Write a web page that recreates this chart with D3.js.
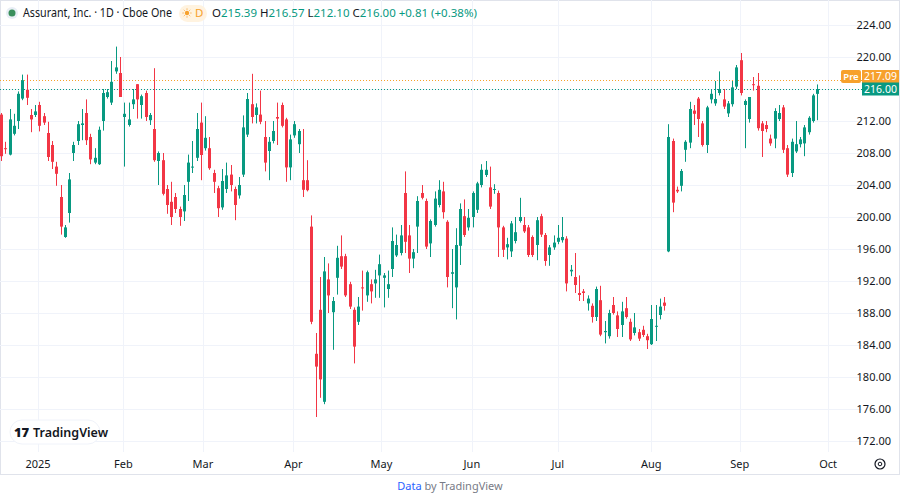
<!DOCTYPE html>
<html><head><meta charset="utf-8">
<script src="https://cdn.jsdelivr.net/npm/d3@7/dist/d3.min.js"></script>
<style>body{margin:0;background:#fff;font-family:"Noto Sans",Roboto,sans-serif}</style>
</head><body><svg id="c" width="900" height="498"></svg>
<script>
// OHLC per trading day: [open, high, low, close]
const candles = [
[212.8,213,207,207.6],[208.6,209.4,207.9,208.5],[207.8,213.5,207.7,212.2],[210.4,212.9,210.2,211.4],[212,215.7,211,215.4],[214.8,217.8,214.6,217.1],[215.9,217.8,214,214.9],[212.75,213.5,210.6,212.2],[212.75,214,212.5,213.2],[214,214.4,210.7,211.4],
[212.6,213,211.5,211.8],[210.5,211.9,207,207.5],[209,209.5,206,206.9],[206.3,206.9,203.9,205.4],[202.5,204,197.8,198.8],[197.5,199,197.4,198.7],[200.5,205.5,199.3,204.7],[208,209.4,207,209],[209.5,212,209,211.6],[211.5,213.5,209.6,211.7],
[213,214.7,209,209.6],[210,210.4,206.6,207.2],[206.8,208.6,206.6,207.4],[206.6,211.3,206.5,210.9],[212,216,210.8,215.5],[215,216,214.8,215.6],[214.3,219.5,214,216.9],[218.2,221.3,217.9,218.7],[218,220,215,215],[212.5,214.3,206.3,212.9],
[211.5,214.3,211.3,212.2],[214.1,216,213.5,214.7],[216.6,216.6,212.3,214.7],[214,215.3,212.3,215.1],[215.5,215.8,212,212.5],[212.1,213,211.5,212.75],[211,218.6,206.9,207.1],[207,208.2,204,208],[207.1,208,202.7,202.9],[203.5,204,200.4,201.5],
[201.9,204.4,199,200],[202.5,203,200.5,201],[201,201.3,198.9,200],[200.7,204,199.5,202.75],[204.4,207.8,202,206.8],[206.2,209.5,205.5,206.3],[207.4,213,207,211],[211.8,214.3,204.6,207.75],[208.6,212.6,208.3,209.9],[208.6,210,205.9,206.1],
[205.5,205.9,203,204.4],[203.6,203.9,200,201.1],[201.2,206,200.9,204.5],[203.5,206.8,203,205.2],[205.3,206.5,203.2,204],[203.5,203.8,199.6,201.5],[202.7,205,202.3,204],[205.3,212.7,205,211.2],[210.3,215.5,210,214.75],[214.1,217.9,211.7,212.5],
[212.75,214.2,211.7,213.7],[212.8,215.8,211.6,211.9],[210,212,205.7,206.8],[208.25,210,204.6,209.4],[209.5,212,209.2,210.75],[212.5,214.3,209,212.3],[214,214.3,211.2,211.4],[212.2,212.4,204.4,206.2],[206.2,210.3,204.6,209.7],[210.2,212,209.9,211.6],
[209.1,211,208,210.75],[204.6,211,202.5,203.4],[204.6,207.1,203.2,203.35],[198.8,200.2,186.6,186.9],[182.9,185.5,175,181.3],[188.4,192.5,177.4,179.7],[176.9,195,176.6,193.2],[192.2,194.2,188,190.2],[188.1,190,183.4,189.5],[192.4,196.4,190.3,194.9],
[195.1,197.7,193.5,193.8],[195.1,195.4,190,190.2],[191.6,191.9,188.5,188.8],[188.4,188.7,181.7,183.8],[186.9,190,186.5,188.8],[191.2,193.3,188.3,191.1],[190.2,193.3,189.4,193.1],[191.6,192.2,189.2,190.7],[191.7,193.4,189.9,192.2],[192.7,195.3,189.9,194.1],
[192.4,193,188.7,192.7],[191,193.3,189.9,191.6],[193.5,198.7,192.5,197],[195.2,197.8,195,196.5],[195.5,199,195.2,197.7],[203,205.7,195.5,196.9],[197.7,199,193,194.8],[194.8,196,193.6,195.6],[198.8,202.6,195.5,202],[203,204,202.2,202.4],
[202,202.3,196,196.3],[196.7,199.7,195,199.5],[199,203.2,198.8,202.3],[201.5,204.6,201.2,203.4],[203.2,204.4,199.8,200.6],[199.4,199.6,191.2,192.5],[192.9,196,188.6,193.1],[191.2,198.6,187.2,196.5],[196.4,201.7,194,201],[200.1,202.2,197.5,197.75],
[198.7,201,198.3,199.9],[200,203.2,198.7,203],[200.9,204.4,200.5,204.2],[204,206.6,203.7,205.9],[205.25,207,205,205.9],[203.7,206.3,201,201.3],[203.5,204.1,202.9,203.5],[203,203.3,195,198.7],[198.7,198.9,195,195.9],[196.2,197.4,194.7,196.6],
[195.7,199.5,195,199.2],[197,200,196.7,198.1],[199.5,202.4,199.3,200],[199,200,198,198.2],[198.7,199,195,195.25],[197.5,197.7,195,195.25],[196.5,200,194.6,199.6],[200.1,200.4,197.5,197.8],[197.75,198,193.9,194.5],[195.25,196.5,193.9,196.2],
[196.2,197.7,195.9,196.8],[196.9,199,196.6,197.4],[197.1,200,196.8,197.5],[197.3,197.6,190.7,191.7],[193.2,194,192.6,193.4],[192.5,195.5,190.5,191.5],[190.5,192.7,189.5,190.25],[190.7,191,189.5,190.5],[189.2,190.2,188.3,189.8],[188.9,189.2,186.8,187.5],
[187.5,191.3,187,191],[189.6,191.4,185.1,185.3],[185.6,187,184.2,185.75],[185.1,188.4,184.8,188],[189,190,187.8,188],[187.7,188.2,185,186],[186.5,189.4,185,188.2],[188.6,190,187.3,187.5],[186.9,187.3,184.5,184.7],[185.5,188,185.2,186.2],
[185.6,186,184.5,184.8],[185.9,186.4,185,185.25],[185.1,185.4,183.5,184.6],[184.1,189,184,187.25],[186.3,189,184.5,186.4],[187.75,189.8,187.2,188.8],[189.3,190,188.3,188.9],[195.7,211.6,195.6,210],[209.5,209.8,200.6,201.8],[203.4,203.8,203,203.2],
[203.9,206,203.2,205.75],[208.4,209.6,206.9,209.4],[209.3,214.4,208.6,213.5],[213.3,214,211.5,212.9],[214.8,215,210,212.25],[211.7,212,208.8,209],[209,213.9,208,213.7],[214.7,216,214.2,215.4],[214.2,217,213.9,214.75],[215.5,218.2,215.2,216],
[214.7,216,213.5,213.8],[212.95,214.5,212.5,214.2],[214.1,217,213.8,216.2],[216.3,219,216,218.7],[219.6,220.5,215.2,215.5],[214,214.7,208.6,214.5],[212.25,215,211.8,215],[216.6,217.5,215.8,216.5],[216.4,218,210.8,211.1],[211.7,212,207.5,210.75],
[211.5,212,210.6,211],[209.8,210.3,208.9,209.2],[209.8,213.6,208.6,213.25],[212.25,214,212,213],[213.7,214,208,208.4],[208.6,209,205,205.3],[205.5,209.8,205,209.4],[208.2,212,208,209.1],[209.1,210,208.7,209.7],[209.2,211.5,207.6,211.2],
[210.6,212.6,210.3,212.4],[212,215.4,211.8,215.2],[215.39,216.57,212.10,216.00]
];
const yTicks = [224,220,216,212,208,204,200,196,192,188,184,180,176,172];
const monthLabels = ["2025","Feb","Mar","Apr","May","Jun","Jul","Aug","Sep","Oct"];
const monthIndex = [8.7,28.8,47.5,68.8,89.5,110.8,131,153,173.8,194.6];
const lastPrice = 216.00, prePrice = 217.09;
const title = "Assurant, Inc. · 1D · Cboe One";
const ohlcLabel = {O:"215.39",H:"216.57",L:"212.10",C:"216.00",chg:"+0.81 (+0.38%)"};

const svg = d3.select("#c");
const W=900, plotR=862, bottom=474;
const x = d3.scaleLinear().domain([0, candles.length-1]).range([1, 817]);
const y = d3.scaleLinear().domain([172,224]).range([441,25]);
const up="#089981", dn="#f23645", orange="#f7a12c";

svg.append("rect").attr("x",0.5).attr("y",0.5).attr("width",W-1).attr("height",bottom).attr("fill","#fff").attr("stroke","#e0e3eb");
svg.append("g").selectAll("line").data(yTicks).join("line")
  .attr("x1",0).attr("x2",plotR).attr("y1",d=>Math.round(y(d))+0.5).attr("y2",d=>Math.round(y(d))+0.5).attr("stroke","#f0f3fa");
svg.append("g").selectAll("line").data(monthIndex).join("line")
  .attr("x1",d=>Math.round(x(d))+0.5).attr("x2",d=>Math.round(x(d))+0.5).attr("y1",0).attr("y2",452).attr("stroke","#f0f3fa");
// tick labels hidden where the price tags cover them (as in the reference)
const lY=y(lastPrice), pY=lY-12.5;
svg.append("g").selectAll("text").data(yTicks.filter(d=>Math.abs(y(d)-lY)>9 && Math.abs(y(d)-pY)>9)).join("text")
  .attr("x",891).attr("y",d=>y(d)+4).attr("text-anchor","end").attr("font-size",11).attr("fill","#131722").text(d=>d.toFixed(2));
svg.append("g").selectAll("text").data(monthLabels).join("text")
  .attr("x",(d,i)=>x(monthIndex[i])).attr("y",468).attr("text-anchor","middle").attr("font-size",11).attr("fill","#131722").text(d=>d);
[[prePrice,orange],[lastPrice,up]].forEach(([v,c])=>{
  svg.append("line").attr("x1",0).attr("x2",plotR).attr("y1",Math.round(y(v))+0.5).attr("y2",Math.round(y(v))+0.5)
   .attr("stroke",c).attr("stroke-dasharray","1,2");
});
const g = svg.append("g");
candles.forEach((c,i)=>{
  const [o,h,l,cl]=c, col = cl>=o?up:dn, cx=Math.round(x(i))+0.5;
  g.append("line").attr("x1",cx).attr("x2",cx).attr("y1",y(h)).attr("y2",y(l)).attr("stroke",col).attr("stroke-width",1);
  const t=y(Math.max(o,cl)), b=y(Math.min(o,cl));
  g.append("rect").attr("x",cx-1.5).attr("y",t).attr("width",3).attr("height",Math.max(1,b-t)).attr("fill",col);
});
svg.append("rect").attr("x",841).attr("y",pY-6.5).attr("width",20).attr("height",13).attr("rx",2).attr("fill",orange);
svg.append("text").attr("x",851).attr("y",pY+3.5).attr("text-anchor","middle").attr("font-size",9.5).attr("font-weight","600").attr("fill","#fff").text("Pre");
svg.append("rect").attr("x",862).attr("y",pY-6.5).attr("width",37).attr("height",13).attr("fill",orange);
svg.append("text").attr("x",880.5).attr("y",pY+3.8).attr("text-anchor","middle").attr("font-size",10.5).attr("fill","#fff").text(prePrice.toFixed(2));
svg.append("rect").attr("x",862).attr("y",lY-6.5).attr("width",37).attr("height",13).attr("fill",up);
svg.append("text").attr("x",880.5).attr("y",lY+3.8).attr("text-anchor","middle").attr("font-size",10.5).attr("fill","#fff").text(lastPrice.toFixed(2));
// title
svg.append("circle").attr("cx",12).attr("cy",13).attr("r",6).attr("fill","#e8eef5");
svg.append("circle").attr("cx",12).attr("cy",13).attr("r",3.5).attr("fill","#3a8f5c");
svg.append("text").attr("x",23).attr("y",17).attr("font-size",12.5).attr("fill","#131722").attr("textLength",149).attr("lengthAdjust","spacingAndGlyphs").text(title);
svg.append("rect").attr("x",179).attr("y",5).attr("width",28).attr("height",17).attr("rx",8.5).attr("fill","#fff3e0");
// small sun icon
svg.append("circle").attr("cx",187).attr("cy",13).attr("r",2.2).attr("fill",orange);
svg.append("g").selectAll("line").data(d3.range(8)).join("line")
  .attr("x1",d=>187+3.3*Math.cos(d*Math.PI/4)).attr("y1",d=>13+3.3*Math.sin(d*Math.PI/4))
  .attr("x2",d=>187+4.5*Math.cos(d*Math.PI/4)).attr("y2",d=>13+4.5*Math.sin(d*Math.PI/4)).attr("stroke",orange).attr("stroke-width",0.9);
svg.append("text").attr("x",195).attr("y",17).attr("font-size",11.5).attr("fill",orange).text("D");
const tt = svg.append("text").attr("x",212).attr("y",17).attr("font-size",11.5).attr("fill","#131722");
["O","H","L","C"].forEach(k=>{ tt.append("tspan").text(k); tt.append("tspan").attr("fill",up).text(ohlcLabel[k]+" "); });
tt.append("tspan").attr("fill",up).text(ohlcLabel.chg);
svg.append("rect").attr("x",10).attr("y",420).attr("width",90).attr("height",24).attr("rx",12).attr("fill","#fff").attr("stroke","#f0f3fa");
svg.append("text").attr("x",14).attr("y",437).attr("font-size",13).attr("font-weight","900").attr("fill","#131722").text("17");
svg.append("text").attr("x",33).attr("y",437).attr("font-size",12.5).attr("font-weight","600").attr("fill","#131722").text("TradingView");
svg.append("circle").attr("cx",880).attr("cy",464).attr("r",5).attr("fill","none").attr("stroke","#131722").attr("stroke-width",1.2);
svg.append("circle").attr("cx",880).attr("cy",464).attr("r",1.8).attr("fill","none").attr("stroke","#131722");
const ft = svg.append("text").attr("x",450).attr("y",490).attr("text-anchor","middle").attr("font-size",11).attr("fill","#787b86");
ft.append("tspan").attr("fill","#2962ff").text("Data");
ft.append("tspan").text(" by TradingView");
</script></body></html>
